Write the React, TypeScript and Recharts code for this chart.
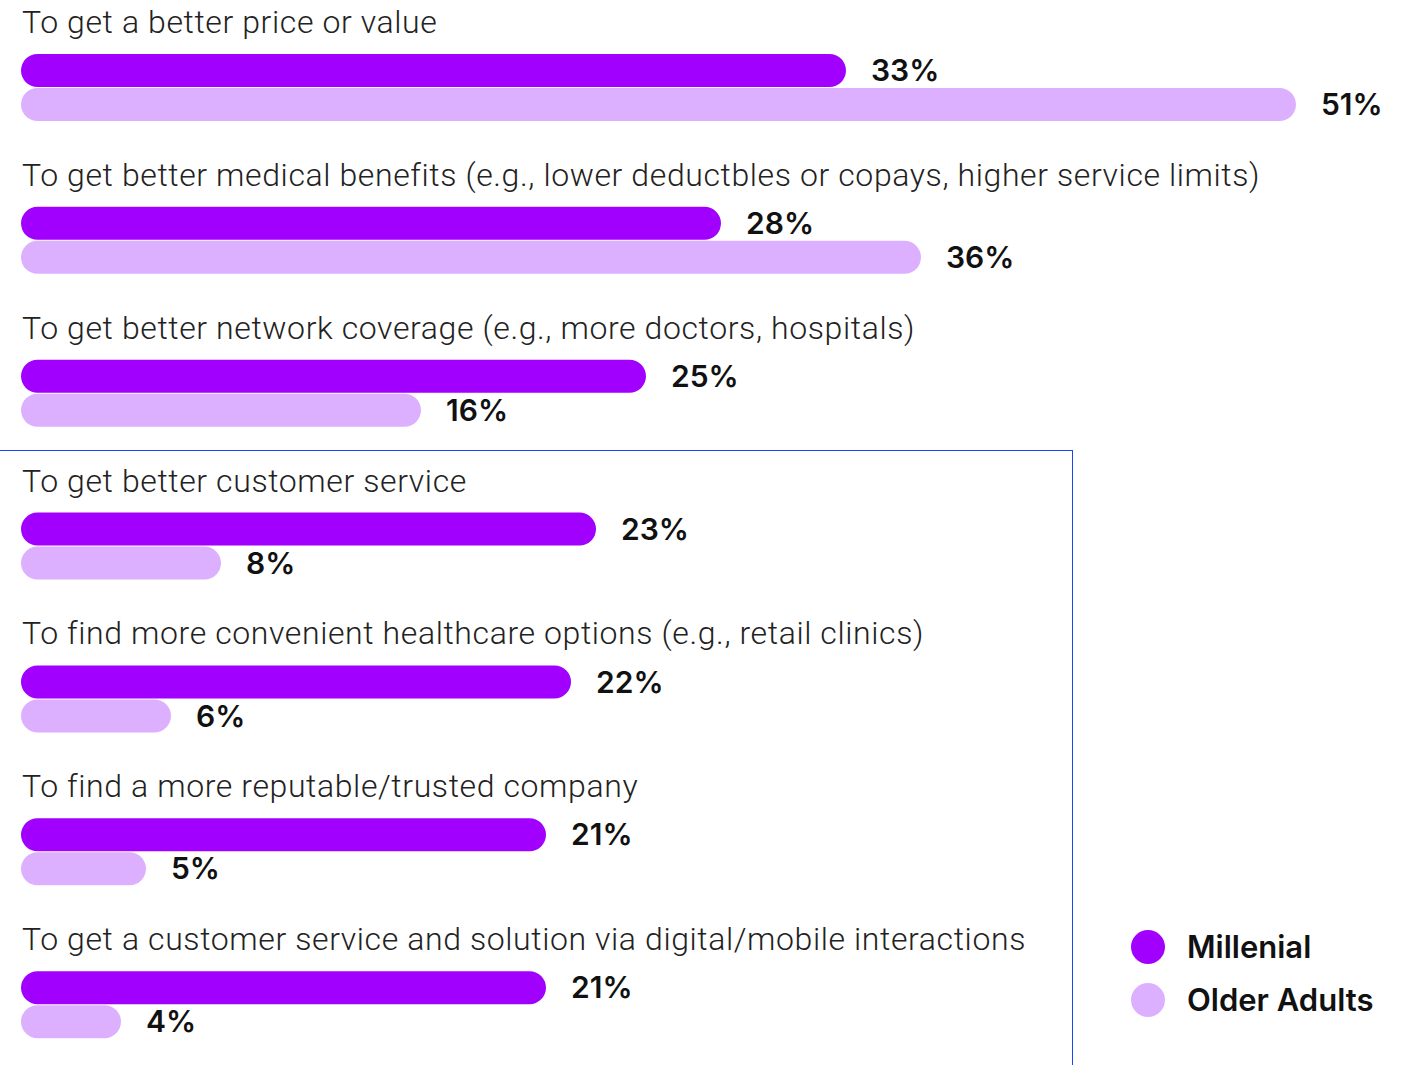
import { BarChart, Bar, XAxis, YAxis, LabelList } from 'recharts';

const categories = [
  'To get a better price or value',
  'To get better medical benefits (e.g., lower deductbles or copays, higher service limits)',
  'To get better network coverage (e.g., more doctors, hospitals)',
  'To get better customer service',
  'To find more convenient healthcare options (e.g., retail clinics)',
  'To find a more reputable/trusted company',
  'To get a customer service and solution via digital/mobile interactions',
];
const millenial = [33, 28, 25, 23, 22, 21, 21];
const olderAdults = [51, 36, 16, 8, 6, 5, 4];
const seriesNames = ['Millenial', 'Older Adults'];

const data = categories.map((name, i) => ({ name, millenial: millenial[i], older: olderAdults[i] }));

const PURPLE = '#a100ff';
const LILAC = '#dcb0ff';
const LABEL_FONT = 'Roboto, "Noto Sans", sans-serif';
const VALUE_FONT = 'Inter, "Noto Sans", sans-serif';

// category text sits above the purple bar of each group
function CategoryLabel(props: any) {
  const { x, y, value } = props;
  return (
    <text x={Number(x) + 1} y={Number(y) - 21} fill="#222" fontSize={32} fontWeight={300}
      letterSpacing={0.6} fontFamily={LABEL_FONT}>
      {value}
    </text>
  );
}

export default function App() {
  return (
    <div style={{ position: 'absolute', left: 0, top: 0, width: 1407, height: 1065, overflow: 'hidden', background: '#fff' }}>
      <BarChart
        width={1407}
        height={1081}
        data={data}
        layout="vertical"
        margin={{ top: 11, right: 11, left: 21, bottom: 0 }}
        barGap={1}
        barSize={33}
      >
        <XAxis type="number" domain={[0, 55]} hide />
        <YAxis type="category" dataKey="name" hide />
        <Bar dataKey="millenial" name={seriesNames[0]} fill={PURPLE} radius={16.5} isAnimationActive={false}>
          <LabelList dataKey="name" content={<CategoryLabel />} />
          <LabelList dataKey="millenial" position="right" offset={25} formatter={(v: any) => `${v}%`}
            fill="#111" fontSize={30} fontWeight={600} fontFamily={VALUE_FONT} />
        </Bar>
        <Bar dataKey="older" name={seriesNames[1]} fill={LILAC} radius={16.5} isAnimationActive={false}>
          <LabelList dataKey="older" position="right" offset={25} formatter={(v: any) => `${v}%`}
            fill="#111" fontSize={30} fontWeight={600} fontFamily={VALUE_FONT} />
        </Bar>
      </BarChart>
      <div style={{ position: 'absolute', left: 0, top: 450, width: 1072, height: 700, borderTop: '1.5px solid #1747f5', borderRight: '1.5px solid #1747f5' }} />
      <div style={{ position: 'absolute', left: 1131, top: 920, fontFamily: VALUE_FONT, fontWeight: 600, fontSize: 31, color: '#111' }}>
        {[PURPLE, LILAC].map((c, i) => (
          <div key={seriesNames[i]} style={{ display: 'flex', alignItems: 'center', height: 53 }}>
            <span style={{ width: 34, height: 34, borderRadius: 17, background: c, marginRight: 22 }} />
            <span>{seriesNames[i]}</span>
          </div>
        ))}
      </div>
    </div>
  );
}
